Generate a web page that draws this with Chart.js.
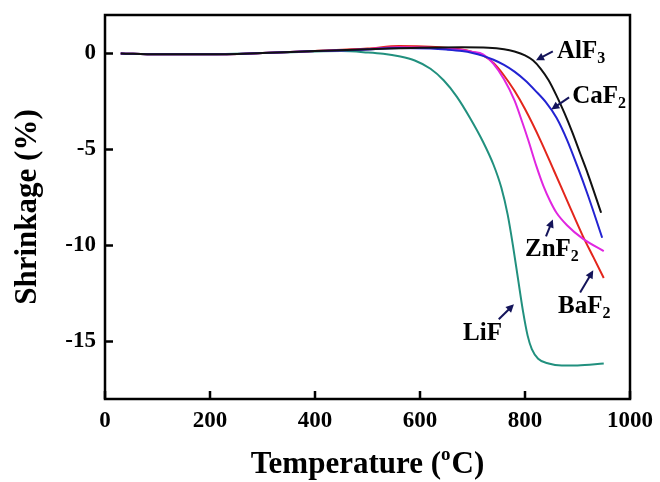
<!DOCTYPE html>
<html>
<head>
<meta charset="utf-8">
<script src="https://cdn.jsdelivr.net/npm/chart.js@4.4.1/dist/chart.umd.min.js"></script>
<style>
  html, body { margin: 0; padding: 0; background: #ffffff; }
  canvas { display: block; }
</style>
</head>
<body>
<canvas id="c" width="660" height="482"></canvas>
<script>
// ---- Data ----
const xTicks = [0, 200, 400, 600, 800, 1000];
const yTicks = [-15, -10, -5, 0];

const tempAlF3 = [30, 100, 200, 300, 400, 500, 600, 680, 730, 760, 780, 800, 815, 830, 845, 860, 875, 890, 905, 920, 945];
const shrinkAlF3 = [0, -0.05, -0.05, 0.02, 0.12, 0.22, 0.3, 0.32, 0.3, 0.22, 0.1, -0.1, -0.36, -0.8, -1.4, -2.2, -3.1, -4.1, -5.2, -6.3, -8.3];

const tempCaF2 = [30, 100, 200, 300, 400, 500, 560, 620, 650, 680, 700, 720, 740, 760, 780, 800, 820, 840, 860, 880, 900, 920, 947];
const shrinkCaF2 = [0, -0.05, -0.05, 0.02, 0.12, 0.2, 0.28, 0.25, 0.2, 0.12, 0.02, -0.13, -0.33, -0.6, -0.95, -1.4, -1.95, -2.55, -3.35, -4.5, -5.9, -7.4, -9.6];

const tempBaF2 = [30, 100, 200, 300, 400, 500, 560, 620, 680, 700, 720, 740, 760, 780, 800, 829, 855, 880, 910, 930, 950];
const shrinkBaF2 = [0, -0.05, -0.05, 0.02, 0.13, 0.25, 0.38, 0.35, 0.2, 0.08, -0.1, -0.5, -1.15, -1.95, -2.9, -4.5, -6.1, -7.65, -9.5, -10.6, -11.7];

const tempZnF2 = [30, 100, 200, 300, 400, 500, 560, 620, 680, 700, 720, 740, 760, 780, 795, 806, 822, 835, 848, 860, 880, 910, 950];
const shrinkZnF2 = [0, -0.05, -0.05, 0.02, 0.12, 0.22, 0.32, 0.3, 0.18, 0.08, -0.05, -0.55, -1.35, -2.45, -3.6, -4.5, -5.9, -6.9, -7.7, -8.3, -8.95, -9.65, -10.3];

const tempLiF = [30, 100, 200, 300, 400, 450, 500, 530, 560, 590, 620, 645, 670, 695, 720, 740, 755, 767, 777, 787, 796, 805, 813, 825, 845, 870, 900, 950];
const shrinkLiF = [0, -0.05, -0.05, 0.02, 0.1, 0.12, 0.05, -0.02, -0.15, -0.37, -0.8, -1.4, -2.25, -3.35, -4.6, -5.8, -7.0, -8.4, -10.0, -11.8, -13.4, -14.7, -15.4, -15.9, -16.15, -16.25, -16.25, -16.15];

// ---- Annotation labels (text, label anchor, arrow tail, arrow tip in data units) ----
const labels = [
  { main: 'AlF', sub: '3', at: [861, -0.26], tail: [853, 0.1], tip: [821, -0.36] },
  { main: 'CaF', sub: '2', at: [890, -2.6], tail: [884, -2.29], tip: [850, -2.92] },
  { main: 'ZnF', sub: '2', at: [800, -10.57], tail: [840, -9.53], tip: [853, -8.65] },
  { main: 'BaF', sub: '2', at: [863, -13.54], tail: [905, -12.45], tip: [930, -11.3] },
  { main: 'LiF', sub: '', at: [682, -14.95], tail: [750, -13.85], tip: [779, -13.07] }
];

const pts = (xs, ys) => xs.map((x, i) => ({ x: x, y: ys[i] }));
const SERIF = '"Liberation Serif", "DejaVu Serif", serif';

function mkSet(label, xs, ys, color) {
  return {
    label: label,
    data: pts(xs, ys),
    borderColor: color,
    backgroundColor: color,
    borderWidth: 2,
    pointRadius: 0,
    showLine: true,
    fill: false,
    cubicInterpolationMode: 'monotone',
    tension: 0.4
  };
}

const decor = {
  id: 'decor',
  afterDraw(chart) {
    const ctx = chart.ctx;
    const xs = chart.scales.x, ys = chart.scales.y;
    const a = chart.chartArea;
    ctx.save();
    // frame
    ctx.strokeStyle = '#000';
    ctx.lineWidth = 2.5;
    ctx.strokeRect(a.left, a.top, a.right - a.left, a.bottom - a.top);
    // inward ticks
    ctx.beginPath();
    xTicks.forEach(v => {
      const px = xs.getPixelForValue(v);
      ctx.moveTo(px, a.bottom);
      ctx.lineTo(px, a.bottom - 8);
    });
    yTicks.forEach(v => {
      const py = ys.getPixelForValue(v);
      ctx.moveTo(a.left, py);
      ctx.lineTo(a.left + 8, py);
    });
    ctx.stroke();

    // axis titles
    ctx.fillStyle = '#000';
    ctx.textBaseline = 'alphabetic';
    const big = 'bold 31px ' + SERIF;
    const small = 'bold 19px ' + SERIF;
    ctx.font = big;
    const p1 = 'Temperature (', p3 = 'C)';
    const w1 = ctx.measureText(p1).width, w3 = ctx.measureText(p3).width;
    ctx.font = small;
    const w2 = ctx.measureText('o').width + 1;
    const total = w1 + w2 + w3;
    const cx = (a.left + a.right) / 2;
    const x0 = cx - total / 2;
    const by = 473;
    ctx.font = big; ctx.textAlign = 'left';
    ctx.fillText(p1, x0, by);
    ctx.font = small;
    ctx.fillText('o', x0 + w1, by - 13);
    ctx.font = big;
    ctx.fillText(p3, x0 + w1 + w2, by);

    ctx.save();
    ctx.translate(36, (a.top + a.bottom) / 2);
    ctx.rotate(-Math.PI / 2);
    ctx.font = big;
    ctx.textAlign = 'center';
    ctx.fillText('Shrinkage (%)', 0, 0);
    ctx.restore();

    // series labels and arrows
    const lf = 'bold 25px ' + SERIF;
    const sf = 'bold 16px ' + SERIF;
    labels.forEach(l => {
      const lx = xs.getPixelForValue(l.at[0]);
      const ly = ys.getPixelForValue(l.at[1]);
      ctx.font = lf; ctx.textAlign = 'left'; ctx.fillStyle = '#000';
      ctx.fillText(l.main, lx, ly);
      const mw = ctx.measureText(l.main).width;
      if (l.sub) {
        ctx.font = sf;
        ctx.fillText(l.sub, lx + mw, ly + 5);
      }
      const tx = xs.getPixelForValue(l.tail[0]), ty = ys.getPixelForValue(l.tail[1]);
      const hx = xs.getPixelForValue(l.tip[0]), hy = ys.getPixelForValue(l.tip[1]);
      const ang = Math.atan2(hy - ty, hx - tx);
      const hl = 8, hw = 4;
      ctx.strokeStyle = '#14145a'; ctx.fillStyle = '#14145a';
      ctx.lineWidth = 2;
      ctx.beginPath();
      ctx.moveTo(tx, ty);
      ctx.lineTo(hx - hl * 0.7 * Math.cos(ang), hy - hl * 0.7 * Math.sin(ang));
      ctx.stroke();
      ctx.beginPath();
      ctx.moveTo(hx, hy);
      ctx.lineTo(hx - hl * Math.cos(ang) + hw * Math.sin(ang), hy - hl * Math.sin(ang) - hw * Math.cos(ang));
      ctx.lineTo(hx - hl * Math.cos(ang) - hw * Math.sin(ang), hy - hl * Math.sin(ang) + hw * Math.cos(ang));
      ctx.closePath();
      ctx.fill();
    });
    ctx.restore();
  }
};

new Chart(document.getElementById('c'), {
  type: 'scatter',
  data: {
    datasets: [
      mkSet('AlF3', tempAlF3, shrinkAlF3, '#111111'),
      mkSet('CaF2', tempCaF2, shrinkCaF2, '#2323d2'),
      mkSet('ZnF2', tempZnF2, shrinkZnF2, '#e026e0'),
      mkSet('BaF2', tempBaF2, shrinkBaF2, '#e3261c'),
      mkSet('LiF', tempLiF, shrinkLiF, '#21907e')
    ]
  },
  options: {
    responsive: false,
    animation: false,
    layout: { padding: { top: 15, right: 30, left: 0, bottom: 0 } },
    plugins: { legend: { display: false }, tooltip: { enabled: false } },
    scales: {
      x: {
        type: 'linear', min: 0, max: 1000,
        afterBuildTicks: s => { s.ticks = xTicks.map(v => ({ value: v })); },
        afterFit: s => { s.height = 83; s.paddingLeft = 0; s.paddingRight = 0; },
        grid: { display: false, drawTicks: false },
        border: { display: false },
        ticks: { color: '#000', padding: 8, maxRotation: 0, callback: v => String(v),
                 font: { family: SERIF, size: 23, weight: 'bold' } }
      },
      y: {
        type: 'linear', min: -18, max: 2,
        afterBuildTicks: s => { s.ticks = yTicks.map(v => ({ value: v })); },
        afterFit: s => { s.width = 105; s.paddingTop = 0; s.paddingBottom = 0; },
        grid: { display: false, drawTicks: false },
        border: { display: false },
        ticks: { color: '#000', padding: 9, callback: v => String(v),
                 font: { family: SERIF, size: 23, weight: 'bold' } }
      }
    }
  },
  plugins: [decor]
});
</script>
</body>
</html>
